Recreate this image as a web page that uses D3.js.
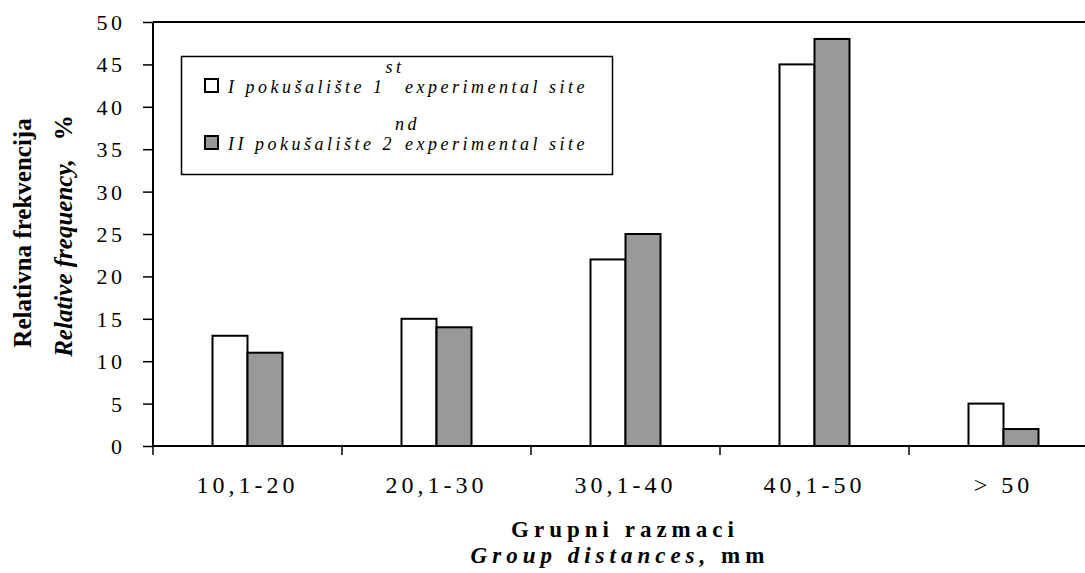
<!DOCTYPE html>
<html>
<head>
<meta charset="utf-8">
<script src="https://cdn.jsdelivr.net/npm/d3@7/dist/d3.min.js"></script>
<style>
  html, body { margin: 0; padding: 0; background: #fff; }
  svg { display: block; }
  text { font-family: "Liberation Serif", "Times New Roman", serif; fill: #000; }
</style>
</head>
<body>
<svg id="chart" width="1085" height="573"></svg>
<script>
const categories = ["10,1-20", "20,1-30", "30,1-40", "40,1-50", "> 50"];
const site1 = [13, 15, 22, 45, 5];
const site2 = [11, 14, 25, 48, 2];
const seriesKeys = ["site1", "site2"];
const seriesFill = { site1: "#ffffff", site2: "#999999" };
const yTicks = [0, 5, 10, 15, 20, 25, 30, 35, 40, 45, 50];

const svg = d3.select("#chart");
const plot = { left: 153, top: 22, bottom: 446, right: 1098 };

const x0 = d3.scaleBand().domain(categories).range([plot.left, plot.right]).padding(0);
const x1 = d3.scaleBand().domain(seriesKeys).range([x0.bandwidth() / 2 - 35, x0.bandwidth() / 2 + 35]).padding(0);
const y = d3.scaleLinear().domain([0, 50]).range([plot.bottom, plot.top]);

// top frame line
svg.append("line")
  .attr("x1", plot.left).attr("x2", plot.right)
  .attr("y1", plot.top).attr("y2", plot.top)
  .attr("stroke", "#000").attr("stroke-width", 2);

// bars
const rows = categories.map((c, i) => ({ cat: c, site1: site1[i], site2: site2[i] }));
const groups = svg.append("g").selectAll("g").data(rows).join("g")
  .attr("transform", d => `translate(${x0(d.cat)},0)`);
groups.selectAll("rect")
  .data(d => seriesKeys.map(k => ({ key: k, value: d[k] })))
  .join("rect")
  .attr("x", d => x1(d.key))
  .attr("width", x1.bandwidth())
  .attr("y", d => y(d.value))
  .attr("height", d => y(0) - y(d.value))
  .attr("fill", d => seriesFill[d.key])
  .attr("stroke", "#000")
  .attr("stroke-width", 2);

// y axis
const yAxis = d3.axisLeft(y).tickValues(yTicks).tickSize(10).tickPadding(17.5);
const gy = svg.append("g").attr("transform", `translate(${plot.left},0)`).call(yAxis);
gy.select(".domain").attr("stroke-width", 2).attr("d", `M0,${plot.top}V${plot.bottom + 1}`);
gy.selectAll(".tick line").attr("stroke-width", 1.5);
gy.selectAll(".tick text")
  .style("font-family", '"Liberation Serif", "Times New Roman", serif')
  .style("font-size", "22px").style("letter-spacing", "3.5px").attr("fill", "#000").attr("dy", "0.34em");

// x axis: labels at centres, ticks at band boundaries
const xAxis = d3.axisBottom(x0).tickSize(0).tickPadding(0);
const gx = svg.append("g").attr("transform", `translate(0,${plot.bottom})`).call(xAxis);
gx.select(".domain").attr("stroke-width", 2).attr("d", `M${plot.left},0H${plot.right}`);
gx.selectAll(".tick text")
  .style("font-family", '"Liberation Serif", "Times New Roman", serif')
  .style("font-size", "24px").style("letter-spacing", "4px").attr("fill", "#000")
  .attr("dy", null).attr("y", 47);
const boundaries = categories.map(c => x0(c));
gx.selectAll(".bnd").data(boundaries).join("line").attr("class", "bnd")
  .attr("x1", d => d).attr("x2", d => d).attr("y1", 0).attr("y2", 9)
  .attr("stroke", "#000").attr("stroke-width", 1.5);

// x title
svg.append("text").attr("x", 625).attr("y", 537).attr("text-anchor", "middle")
  .style("font-size", "23px").style("font-weight", "bold").style("letter-spacing", "5px")
  .text("Grupni razmaci");
const xt2 = svg.append("text").attr("x", 620).attr("y", 563).attr("text-anchor", "middle")
  .style("font-size", "23px").style("font-weight", "bold").style("letter-spacing", "5px");
xt2.append("tspan").style("font-style", "italic").text("Group distances,");
xt2.append("tspan").text(" mm");

// y title
svg.append("text").attr("transform", "translate(31,233) rotate(-90)").attr("text-anchor", "middle")
  .style("font-size", "25px").style("font-weight", "bold").text("Relativna frekvencija");
const yt2 = svg.append("text").attr("transform", "translate(72,236) rotate(-90)").attr("text-anchor", "middle")
  .style("font-size", "25px").style("font-weight", "bold");
yt2.append("tspan").style("font-style", "italic").text("Relative frequency,");
yt2.append("tspan").attr("dx", 19).text("%");

// legend
const legendItems = [
  { key: "site1", main: "I pokušalište 1", sup: "st", rest: "experimental site" },
  { key: "site2", main: "II pokušalište 2", sup: "nd", rest: "experimental site" }
];
const lg = svg.append("g");
lg.append("rect").attr("x", 181.5).attr("y", 56.5).attr("width", 431).attr("height", 118)
  .attr("fill", "#fff").attr("stroke", "#000").attr("stroke-width", 1.5);
const li = lg.selectAll(".li").data(legendItems).join("g").attr("class", "li")
  .attr("transform", (d, i) => `translate(0,${93 + i * 57})`);
li.append("rect").attr("x", 205).attr("y", -14).attr("width", 13).attr("height", 13)
  .attr("fill", d => seriesFill[d.key]).attr("stroke", "#000").attr("stroke-width", 2);
const lt = li.append("text").attr("x", 228).attr("y", 0)
  .style("font-size", "18px").style("font-style", "italic").style("letter-spacing", "3.5px");
lt.append("tspan").text(d => d.main);
lt.append("tspan").attr("dy", -20).text(d => d.sup);
lt.append("tspan").attr("x", 405).attr("y", 0).text(d => d.rest);
</script>
</body>
</html>
